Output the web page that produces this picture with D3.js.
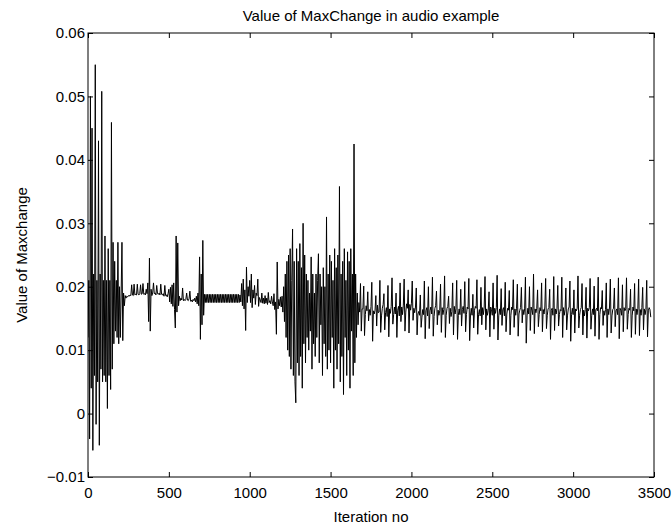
<!DOCTYPE html>
<html>
<head>
<meta charset="utf-8">
<script src="https://cdn.jsdelivr.net/npm/d3@7"></script>
<style>
  html, body { margin: 0; padding: 0; background: #fff; }
  svg { display: block; }
  text { font-family: "Liberation Sans", Arial, Helvetica, sans-serif; fill: #000; }
</style>
</head>
<body>
<svg id="chart" width="672" height="529"></svg>
<script>
// ---- Data (MaxChange values in units of 1e-3, sampled every 5 iterations) ----
const sampleStep = 5;

// iterations 0 - 295
const earlyBurst = [
  12, 21, -4, 50, 4, 45, -5.8, 22, 6, 55, -1.7, 21, 5, 43, -5, 22, 7, 50.8, 5, 21,
  6, 28, 5, 21, 0.8, 26, 6, 21, 3.8, 45.9, 7, 27, 11, 24, 13, 21, 12, 27, 11, 20,
  12, 19, 27, 11.5, 19, 17, 18.6, 18.2, 18.5, 18.4, 18.6, 18.5, 18.7, 18.6, 20.3, 18.7, 18.6, 20.4, 18.7, 18.8
];

// iterations 300 - 695
const plateau = [
  18.7, 20.4, 18.8, 18.7, 18.9, 20.3, 18.8, 18.9, 20.5, 18.8, 18.9, 18.7, 19.6, 18.9, 20.6, 14.5, 24.5, 13, 19.6, 18.6,
  19, 20.6, 18.9, 19, 18.7, 20.2, 18.9, 18.8, 19, 18.7, 20.4, 18.8, 18.7, 18.9, 18.5, 20.2, 18.6, 18.7, 18.4, 18.9,
  19.6, 17.6, 19.9, 17.3, 20.3, 16.9, 20.6, 16.4, 13.5, 28, 16, 26.9, 17, 18.5, 17.8, 18.2, 17.9, 19.8, 17.8, 18,
  17.8, 18, 19, 17.9, 17.8, 18.1, 19.3, 17.7, 17.9, 17.6, 18, 17.8, 18.2, 17.6, 18.5, 17.3, 19, 17, 24.7, 11.7
];

// iterations 700 - 995
const band = [
  22, 14, 27.3, 15.5, 18.8, 17.5, 18.8, 17.5, 18.8, 17.5, 18.8, 17.5, 18.8, 17.5, 18.8, 17.5, 18.8, 17.5, 18.8, 17.5,
  18.8, 17.5, 18.8, 17.5, 18.8, 17.5, 18.8, 17.5, 18.8, 17.5, 18.8, 17.5, 18.8, 17.5, 18.8, 17.5, 18.8, 17.5, 18.8, 17.5,
  18.8, 17.5, 18.8, 17.5, 18.8, 17.5, 18.8, 17.5, 18.7, 17.6, 20.5, 17, 21.2, 16.5, 19.5, 13.1, 23.1, 17.5, 20, 18.5
];

// iterations 1000 - 1695
const midBurst = [
  21, 17.5, 22, 16.7, 19.5, 18.2, 20.2, 17.2, 19, 18.6, 21.2, 16.9, 18.3, 17.9, 17.5, 19, 17.4, 18.2, 17.3, 18.6,
  17.4, 18.2, 17.2, 19.1, 17.5, 17.8, 17.3, 18.5, 17.6, 17, 18.9, 16.4, 17.6, 12.5, 23.9, 16.5, 18, 17, 18.4, 16.8,
  18.5, 16, 20, 14.5, 22, 12, 24, 10, 25, 9, 26, 7, 21, 29.1, 6, 24, 5, 1.7, 26, 8,
  24, 6, 26.8, 9, 23, 4, 30, 11, 25, 8, 22, 12, 21, 10, 19, 13, 24.7, 7, 22, 11,
  19, 9, 22, 12, 21, 25.2, 8, 22, 14, 20, 6, 23, 11, 20, 9, 31, 7, 22, 10, 25,
  8, 24, 12, 21, 4, 26, 10, 23, 7, 25, 11, 35.8, 5, 22, 9, 24, 3, 26, 12, 21,
  6, 25.5, 10, 24, 4, 26, 13, 22, 6, 42.5, 8, 22, 12, 19, 14, 17.5, 16, 20.5, 13, 16.5
];

// iterations 1700 - 3480
const lateSpikes = [
  16.5, 20.1, 12.3, 15.6, 17.0, 16.2, 19.2, 14.6, 16.4, 15.5, 16.9, 20.7, 11.4, 16.2, 15.7, 16.3, 18.6, 13.8, 17.1, 15.9,
  16.0, 21.0, 12.8, 15.4, 16.6, 17.2, 18.9, 13.2, 15.9, 16.7, 15.3, 20.2, 12.1, 16.5, 15.8, 16.9, 21.4, 14.1, 15.6, 16.8,
  15.7, 19.0, 12.0, 16.3, 16.9, 15.4, 20.6, 14.5, 16.8, 15.6, 17.1, 21.2, 13.0, 16.0, 17.3, 16.6, 19.5, 12.7, 17.2, 16.3,
  17.4, 20.9, 14.7, 16.6, 15.9, 16.8, 19.8, 12.4, 15.7, 16.1, 15.5, 18.7, 13.6, 15.2, 16.4, 15.6, 20.9, 11.8, 16.2, 16.7,
  15.4, 20.0, 13.4, 16.2, 16.8, 15.7, 21.5, 12.2, 15.3, 16.6, 17.0, 19.3, 14.0, 16.3, 15.5, 16.2, 20.4, 12.8, 16.7, 15.6,
  16.4, 21.7, 12.0, 15.5, 16.6, 16.9, 18.5, 14.2, 16.6, 15.3, 16.1, 20.6, 12.4, 16.9, 15.7, 16.5, 21.0, 11.7, 15.5, 16.5,
  15.6, 19.6, 13.8, 16.4, 16.9, 15.8, 20.8, 12.9, 15.6, 16.8, 16.5, 21.3, 11.5, 15.4, 16.6, 15.5, 18.8, 13.5, 16.3, 16.9,
  16.6, 21.1, 12.5, 15.6, 16.4, 15.4, 19.9, 14.0, 16.7, 15.6, 16.8, 21.6, 13.2, 16.5, 15.5, 16.3, 19.2, 12.1, 16.8, 16.4,
  15.5, 20.6, 13.3, 16.6, 15.8, 16.7, 21.8, 11.6, 15.4, 16.5, 15.6, 19.7, 13.9, 16.4, 16.7, 15.4, 20.7, 12.9, 15.7, 16.6,
  16.3, 19.4, 12.4, 15.5, 16.8, 16.4, 21.1, 13.6, 16.5, 15.5, 16.6, 20.4, 12.2, 15.7, 16.3, 16.7, 19.9, 14.3, 16.4, 15.6,
  16.5, 21.5, 11.1, 15.4, 16.6, 15.7, 20.0, 13.1, 16.8, 16.3, 15.6, 22.0, 12.6, 16.5, 15.9, 16.6, 19.5, 13.7, 15.6, 16.7,
  16.2, 20.6, 12.9, 16.4, 15.7, 16.8, 21.3, 13.4, 15.5, 16.5, 16.7, 19.6, 11.7, 16.3, 16.6, 15.5, 21.6, 13.1, 16.5, 15.7,
  16.6, 20.2, 13.8, 15.6, 16.4, 16.2, 21.5, 12.0, 16.7, 15.5, 16.4, 19.8, 13.2, 15.4, 16.5, 16.8, 20.9, 11.4, 15.6, 16.6,
  15.6, 19.5, 12.7, 16.5, 16.2, 16.6, 21.7, 13.5, 15.5, 16.4, 16.7, 20.5, 12.4, 16.3, 15.4, 16.4, 19.9, 11.9, 16.6, 16.2,
  16.7, 21.3, 13.3, 15.5, 16.5, 15.6, 20.1, 12.2, 16.4, 16.6, 16.2, 21.5, 11.7, 15.6, 16.7, 16.5, 19.4, 13.9, 16.2, 15.5,
  16.4, 20.6, 12.0, 16.5, 15.6, 16.8, 21.2, 12.7, 15.4, 16.4, 16.6, 19.8, 13.7, 16.2, 16.5, 15.6, 21.4, 11.8, 16.6, 16.3,
  15.5, 20.3, 12.9, 16.7, 16.2, 16.5, 21.4, 13.3, 15.6, 16.6, 16.3, 19.6, 12.0, 15.4, 16.8, 16.2, 20.5, 12.5, 16.5, 15.6,
  16.6, 21.2, 12.3, 16.4, 15.5, 16.7, 19.9, 13.2, 16.5, 15.6, 16.4, 21.0, 12.1, 16.2, 16.7, 16.4, 15.2
];

const xTicks = [0, 500, 1000, 1500, 2000, 2500, 3000, 3500];
const yTicks = [-0.01, 0, 0.01, 0.02, 0.03, 0.04, 0.05, 0.06];
const yTickLabels = ["\u22120.01", "0", "0.01", "0.02", "0.03", "0.04", "0.05", "0.06"];
const titleText = "Value of MaxChange in audio example";
const xLabelText = "Iteration no";
const yLabelText = "Value of Maxchange";

// ---- Build series ----
const allValues = [].concat(earlyBurst, plateau, band, midBurst, lateSpikes);
const series = allValues.map((v, i) => ({ iter: i * sampleStep, value: v / 1000 }));

// ---- Layout ----
const svg = d3.select("#chart");
const L = 88, R = 654, T = 33, B = 477;

const x = d3.scaleLinear().domain([0, 3500]).range([L, R]);
const y = d3.scaleLinear().domain([-0.01, 0.06]).range([B, T]);

const tickLen = 5;
const fontSize = 15;

svg.append("clipPath").attr("id", "clip")
  .append("rect").attr("x", L).attr("y", T).attr("width", R - L).attr("height", B - T);

svg.append("path")
  .datum(series)
  .attr("clip-path", "url(#clip)")
  .attr("fill", "none")
  .attr("stroke", "#000")
  .attr("stroke-width", 1)
  .attr("d", d3.line().x(d => x(d.iter)).y(d => y(d.value)));

const fmtY = d => yTickLabels[yTicks.indexOf(d)];

const bottomAxis = svg.append("g").attr("transform", `translate(0,${B})`)
  .call(d3.axisBottom(x).tickValues(xTicks).tickFormat(d3.format("d")).tickSizeInner(-tickLen).tickSizeOuter(0).tickPadding(10));
const topAxis = svg.append("g").attr("transform", `translate(0,${T})`)
  .call(d3.axisTop(x).tickValues(xTicks).tickFormat("").tickSizeInner(-tickLen).tickSizeOuter(0));
const leftAxis = svg.append("g").attr("transform", `translate(${L},0)`)
  .call(d3.axisLeft(y).tickValues(yTicks).tickFormat(fmtY).tickSizeInner(-tickLen).tickSizeOuter(0).tickPadding(3));
const rightAxis = svg.append("g").attr("transform", `translate(${R},0)`)
  .call(d3.axisRight(y).tickValues(yTicks).tickFormat("").tickSizeInner(-tickLen).tickSizeOuter(0));

[bottomAxis, topAxis, leftAxis, rightAxis].forEach(g => {
  g.select(".domain").remove();
  g.selectAll(".tick line").attr("stroke", "#000").attr("stroke-width", 1);
  g.selectAll("text").attr("font-size", fontSize).attr("font-family", "Liberation Sans, Arial, sans-serif").attr("fill", "#000");
});

svg.append("rect")
  .attr("x", L).attr("y", T).attr("width", R - L).attr("height", B - T)
  .attr("fill", "none").attr("stroke", "#000").attr("stroke-width", 1);

svg.append("text").attr("x", (L + R) / 2).attr("y", 21)
  .attr("text-anchor", "middle").attr("font-size", fontSize).text(titleText);
svg.append("text").attr("x", (L + R) / 2).attr("y", 522)
  .attr("text-anchor", "middle").attr("font-size", fontSize).text(xLabelText);
svg.append("text")
  .attr("transform", `translate(27,${(T + B) / 2}) rotate(-90)`)
  .attr("text-anchor", "middle").attr("font-size", fontSize).text(yLabelText);
</script>
</body>
</html>
